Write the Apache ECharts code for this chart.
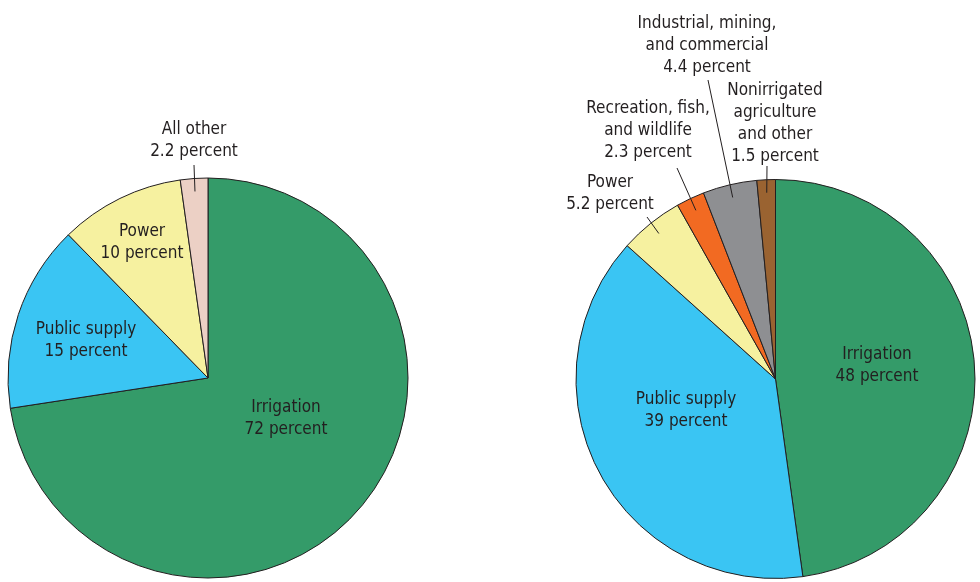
<!DOCTYPE html>
<html>
<head>
<meta charset="utf-8">
<script src="https://cdn.jsdelivr.net/npm/echarts@6/dist/echarts.min.js"></script>
<style>
  html, body { margin: 0; padding: 0; background: #fff; }
  #chart { width: 980px; height: 582px; }
</style>
</head>
<body>
<div id="chart"></div>
<script>
// left pie
const leftNames = ['Irrigation', 'Public supply', 'Power', 'All other'];
const leftValues = [72, 15, 10, 2.2];
const leftColors = ['#349b69', '#3ac5f3', '#f6f1a0', '#ecd0c5'];

// right pie
const rightNames = ['Irrigation', 'Public supply', 'Power', 'Recreation, fish,\nand wildlife',
  'Industrial, mining,\nand commercial', 'Nonirrigated\nagriculture\nand other'];
const rightValues = [48, 39, 5.2, 2.3, 4.4, 1.5];
const rightColors = ['#349b69', '#3ac5f3', '#f6f1a0', '#f26a22', '#8e8f92', '#9a6331'];

// label placement: [centerX, centerY, lineStartX, lineStartY] (line only when 4 values)
const leftLabelPos = [[286, 419], [86, 341], [142, 243], [194, 141, 194, 165]];
const rightLabelPos = [[877, 366], [686, 411], [610, 194, 647, 217], [648, 131, 677, 168],
  [707, 46, 708, 80], [775, 124, 767, 166]];

const FONT = '"Liberation Sans Narrow", "DejaVu Sans Condensed", sans-serif';

// slices only
function makePie(names, values, colors, center, radius) {
  return {
    type: 'pie',
    center: center,
    radius: radius,
    startAngle: 90,
    clockwise: true,
    animation: false,
    emphasis: { disabled: true },
    z: 2,
    itemStyle: { borderColor: '#231f20', borderWidth: 1 },
    label: { show: false },
    labelLine: { show: false },
    data: names.map((n, i) => ({ name: n, value: values[i], itemStyle: { color: colors[i] } }))
  };
}

// same pie, transparent, on top: carries the labels and leader lines
function makeLabels(names, values, labelPos, center, radius) {
  return {
    type: 'pie',
    center: center,
    radius: radius,
    startAngle: 90,
    clockwise: true,
    avoidLabelOverlap: false,
    animation: false,
    silent: true,
    emphasis: { disabled: true },
    z: 5,
    itemStyle: { color: 'rgba(0,0,0,0)', borderWidth: 0 },
    label: {
      color: '#231f20',
      fontFamily: FONT,
      fontSize: 17,
      lineHeight: 22,
      align: 'center',
      formatter: p => p.name + '\n' + p.value + ' percent'
    },
    labelLine: { show: true, length: 10, length2: 0, lineStyle: { color: '#231f20', width: 1 } },
    labelLayout: function (params) {
      const pos = labelPos[params.dataIndex];
      const out = { x: pos[0], y: pos[1], align: 'center', verticalAlign: 'middle' };
      if (pos.length === 4 && params.labelLinePoints) {
        const p0 = params.labelLinePoints[0];
        const k = (radius - 13) / radius;
        const end = [center[0] + (p0[0] - center[0]) * k, center[1] + (p0[1] - center[1]) * k];
        out.labelLinePoints = [[pos[2], pos[3]], [pos[2], pos[3]], end];
      }
      return out;
    },
    data: names.map((n, i) => ({
      name: n,
      value: values[i],
      label: { position: labelPos[i].length === 4 ? 'outside' : 'inside' },
      labelLine: { show: labelPos[i].length === 4 }
    }))
  };
}

const chart = echarts.init(document.getElementById('chart'));
chart.setOption({
  backgroundColor: '#ffffff',
  series: [
    makePie(leftNames, leftValues, leftColors, [208, 378], 200),
    makePie(rightNames, rightValues, rightColors, [775.5, 379], 199.5),
    makeLabels(leftNames, leftValues, leftLabelPos, [208, 378], 200),
    makeLabels(rightNames, rightValues, rightLabelPos, [775.5, 379], 199.5)
  ]
});
</script>
</body>
</html>
